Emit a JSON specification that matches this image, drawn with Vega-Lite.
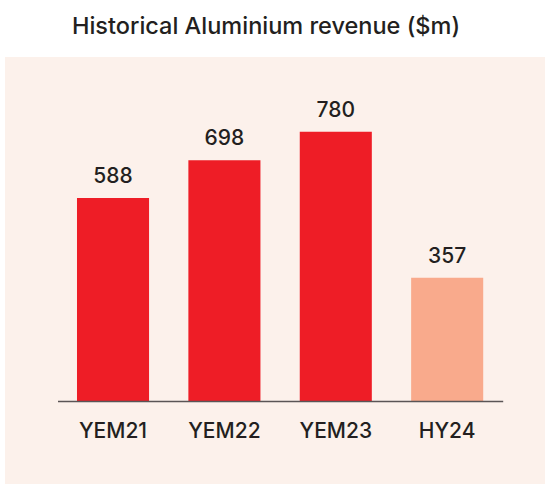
{
  "$schema": "https://vega.github.io/schema/vega-lite/v6.json",
  "autosize": "none",
  "width": 540,
  "height": 427,
  "padding": {"left": 5, "top": 57, "right": 0, "bottom": 0},
  "background": "#ffffff",
  "title": {
    "text": "Historical Aluminium revenue ($m)",
    "font": "Inter",
    "fontSize": 23.5,
    "fontWeight": 500,
    "color": "#231f20",
    "anchor": "middle",
    "offset": 19,
    "dx": -9
  },
  "config": {
    "view": {"fill": "#fcf1eb", "stroke": null},
    "font": "Inter"
  },
  "data": {
    "values": [
      {"period": "YEM21", "revenue": 588, "kind": "full"},
      {"period": "YEM22", "revenue": 698, "kind": "full"},
      {"period": "YEM23", "revenue": 780, "kind": "full"},
      {"period": "HY24", "revenue": 357, "kind": "half"}
    ]
  },
  "encoding": {
    "x": {
      "field": "period",
      "type": "nominal",
      "sort": null,
      "scale": {"range": [52.5, 497.7], "paddingInner": 0.353, "paddingOuter": 0.175},
      "axis": {
        "title": null,
        "labelAngle": 0,
        "labelFont": "Inter",
        "labelFontSize": 21,
        "labelFontWeight": 500,
        "labelColor": "#231f20",
        "labelPadding": 19,
        "ticks": false,
        "domainColor": "#5a5556",
        "domainWidth": 1.5,
        "offset": -83,
        "zindex": 1
      }
    },
    "y": {
      "field": "revenue",
      "type": "quantitative",
      "scale": {"domain": [0, 997], "range": [344, 0], "nice": false, "zero": true},
      "axis": null
    }
  },
  "layer": [
    {
      "mark": {"type": "bar"},
      "encoding": {
        "color": {
          "field": "kind",
          "type": "nominal",
          "scale": {"domain": ["full", "half"], "range": ["#ee1d26", "#f9aa8c"]},
          "legend": null
        }
      }
    },
    {
      "mark": {"type": "text", "baseline": "alphabetic", "dy": -15, "font": "Inter", "fontSize": 21, "fontWeight": 500, "color": "#231f20"},
      "encoding": {"text": {"field": "revenue", "type": "quantitative"}}
    }
  ]
}
